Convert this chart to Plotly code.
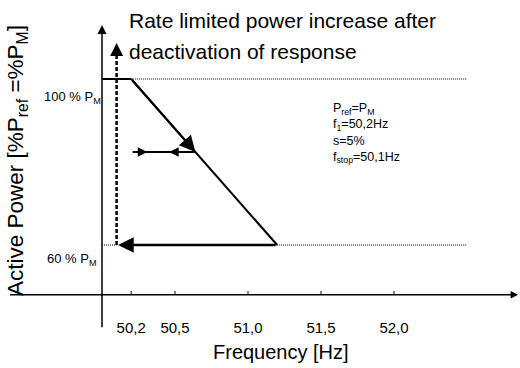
import plotly.graph_objects as go

# ---------------- data ----------------
tick_freqs = [50.2, 50.5, 51.0, 51.5, 52.0]
tick_labels = ["50,2", "50,5", "51,0", "51,5", "52,0"]

f_axis = 50.0          # frequency where the power axis stands
p_axis = 48.0          # power level where the frequency axis lies
f_axis_start = 49.37   # left end of frequency axis
f_axis_end = 52.85     # right end (arrow tip)
p_axis_low = 39.8      # lower end of power axis
p_axis_high = 113.0    # top of power axis (arrow tip)
tick_height = 0.9      # tick mark height in % units

p_max = 100.0          # 100 % P_M
p_min = 60.0           # 60 % P_M
f1 = 50.2              # start of droop
f_end = 51.2           # droop reaches 60 %
f_stop = 50.1
f_ref_end = 52.5       # end of dotted reference lines
p_stop_top = 108.7     # top of dashed release arrow

f_mid = 50.64          # operating point on droop
p_mid = 82.4
f_mid_start = 50.21
f_mid_arrow_r = 50.31
f_mid_arrow_l = 50.46
f_bottom_tip = 50.11

title_lines = ["Rate limited power increase after", "deactivation of response"]
param_lines = ["P<sub>ref</sub>=P<sub>M</sub>", "f<sub>1</sub>=50,2Hz", "s=5%",
               "f<sub>stop</sub>=50,1Hz"]
label_100 = "100 % P<sub>M</sub>"
label_60 = "60 % P<sub>M</sub>"
y_title = "Active Power [%P<sub>ref</sub> =%P<sub>M</sub>]"
x_title = "Frequency [Hz]"

# ---------------- layout helpers ----------------
W, H = 520, 368
FONT = "Arial, Liberation Sans, sans-serif"


def px(x):
    return x / W


def py(y):
    return 1 - y / H


fig = go.Figure()


def line(xs, ys, width=2, dash="solid"):
    fig.add_trace(go.Scatter(x=xs, y=ys, mode="lines",
                             line=dict(color="black", width=width, dash=dash),
                             hoverinfo="skip", showlegend=False, cliponaxis=False))


def arrow(x_tail, y_tail, x_tip, y_tip, width=2, size=1.0, head=2):
    fig.add_annotation(x=x_tip, y=y_tip, ax=x_tail, ay=y_tail,
                       xref="x", yref="y", axref="x", ayref="y",
                       text="", showarrow=True, arrowhead=head,
                       arrowsize=size, arrowwidth=width, arrowcolor="black",
                       standoff=0, startstandoff=0)


# axes
line([f_axis_start, f_axis_end - 0.03], [p_axis, p_axis], width=1.5)
arrow(f_axis_end - 0.06, p_axis, f_axis_end, p_axis, width=1.5, size=1.0)
arrow(f_axis, p_axis_low, f_axis, p_axis_high, width=1.5, size=1.2)

# tick marks on the frequency axis
tx, ty = [], []
for f in tick_freqs:
    tx += [f, f, None]
    ty += [p_axis, p_axis + tick_height, None]
line(tx, ty, width=1)

# dotted reference lines
DOT = "1px,1px"
line([f1, f_ref_end], [p_max, p_max], width=1, dash=DOT)
line([f_end, f_ref_end], [p_min, p_min], width=1, dash=DOT)
line([f_axis, f_stop], [p_min, p_min], width=1, dash=DOT)

# characteristic
line([f_axis, f1], [p_max, p_max], width=2)
line([f1, f_end], [p_max, p_min], width=2)
arrow(f1, p_max, f_mid, p_mid, width=2, size=1.6)

# middle horizontal with arrows
line([f_mid_start, f_mid], [p_mid, p_mid], width=2)
arrow(f_mid_start, p_mid, f_mid_arrow_r, p_mid, width=2, size=0.95)
arrow(f_mid, p_mid, f_mid_arrow_l, p_mid, width=2, size=0.95)

# bottom return arrow
arrow(f_end, p_min, f_bottom_tip, p_min, width=2.5, size=1.25)

# dashed vertical release arrow
line([f_stop, f_stop], [p_min, p_stop_top - 2], width=2.5, dash="4px,2px")
arrow(f_stop, p_stop_top - 3, f_stop, p_stop_top, width=2, size=1.3)

# texts
for i, t in enumerate(title_lines):
    fig.add_annotation(x=px(127), y=py(20 + 32 * i), xref="paper", yref="paper",
                       text=t, showarrow=False, xanchor="left", yanchor="middle",
                       font=dict(family=FONT, size=21, color="black"))

fig.add_annotation(x=px(331), y=py(99), xref="paper", yref="paper",
                   text="<br>".join(param_lines), showarrow=False, align="left",
                   xanchor="left", yanchor="top",
                   font=dict(family=FONT, size=12.5, color="black"))

fig.add_annotation(x=px(103), y=py(97), xref="paper", yref="paper", text=label_100,
                   showarrow=False, xanchor="right", yanchor="middle",
                   font=dict(family=FONT, size=13, color="black"))
fig.add_annotation(x=px(99), y=py(259), xref="paper", yref="paper", text=label_60,
                   showarrow=False, xanchor="right", yanchor="middle",
                   font=dict(family=FONT, size=13, color="black"))

fig.add_annotation(x=px(17), y=py(161), xref="paper", yref="paper", text=y_title,
                   showarrow=False, textangle=-90, xanchor="center", yanchor="middle",
                   font=dict(family=FONT, size=22.5, color="black"))
fig.add_annotation(x=px(281), y=py(352), xref="paper", yref="paper", text=x_title,
                   showarrow=False, xanchor="center", yanchor="middle",
                   font=dict(family=FONT, size=20, color="black"))

# scales: whole figure is the plot area
x0 = f_axis - 102 / 146
x1 = f_axis + (W - 102) / 146
y1 = p_max + 79 / 4.15
y0 = p_max - (H - 79) / 4.15

fig.update_layout(
    width=W, height=H, margin=dict(l=0, r=0, t=0, b=0),
    paper_bgcolor="white", plot_bgcolor="white",
    xaxis=dict(range=[x0, x1], showgrid=False, zeroline=False, showline=False,
               tickvals=tick_freqs, ticktext=tick_labels, ticks="",
               anchor="free", position=(H - 295) / H,
               ticklabelstandoff=22,
               tickfont=dict(family=FONT, size=15, color="black"),
               fixedrange=True),
    yaxis=dict(range=[y0, y1], showgrid=False, zeroline=False, showline=False,
               showticklabels=False, ticks="", fixedrange=True),
)

fig.write_html("out.html", config={"displayModeBar": False},
               post_script="document.body.style.margin='0';"
                           "document.body.style.overflow='hidden';")
